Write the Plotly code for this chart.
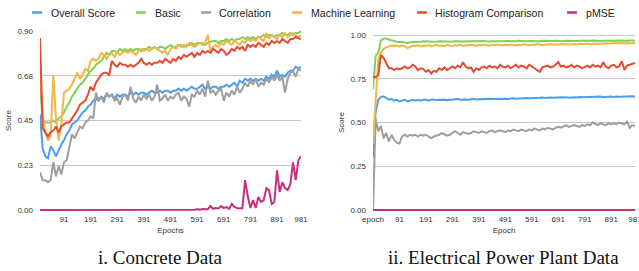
import plotly.graph_objects as go

W, H = 639, 271

# ---------------- Data ----------------
# Left: Concrete Data (epochs 1, 11, ..., 981)
left_epochs = [str(e) for e in range(1, 982, 10)]
left_ticks = ["91", "191", "291", "391", "491", "591", "691", "791", "891", "981"]

l_overall = [
    0.48, 0.31, 0.27, 0.26, 0.32, 0.30, 0.27, 0.30, 0.33, 0.35,
    0.38, 0.40, 0.43, 0.44, 0.45, 0.47, 0.49, 0.50, 0.52, 0.53,
    0.55, 0.56, 0.55, 0.57, 0.56, 0.58, 0.57, 0.58, 0.56, 0.58,
    0.57, 0.58, 0.58, 0.57, 0.59, 0.58, 0.59, 0.58, 0.59, 0.59,
    0.58, 0.59, 0.60, 0.59, 0.59, 0.60, 0.59, 0.60, 0.60, 0.59,
    0.60, 0.60, 0.61, 0.60, 0.61, 0.60, 0.61, 0.62, 0.61, 0.61,
    0.62, 0.63, 0.61, 0.62, 0.61, 0.62, 0.62, 0.61, 0.62, 0.62,
    0.63, 0.62, 0.63, 0.64, 0.62, 0.65, 0.64, 0.66, 0.65, 0.66,
    0.65, 0.66, 0.65, 0.66, 0.65, 0.67, 0.66, 0.68, 0.67, 0.70,
    0.67, 0.68, 0.67, 0.69, 0.70, 0.70, 0.72, 0.71, 0.72]

l_basic = [
    0.64, 0.45, 0.44, 0.44, 0.44, 0.45, 0.44, 0.46, 0.47, 0.49,
    0.52, 0.54, 0.57, 0.59, 0.61, 0.63, 0.64, 0.66, 0.68, 0.70,
    0.71, 0.73, 0.74, 0.75, 0.77, 0.79, 0.78, 0.80, 0.80, 0.79,
    0.81, 0.80, 0.81, 0.80, 0.81, 0.80, 0.81, 0.81, 0.80, 0.81,
    0.81, 0.82, 0.81, 0.82, 0.81, 0.82, 0.82, 0.81, 0.82, 0.83,
    0.82, 0.82, 0.83, 0.83, 0.82, 0.83, 0.83, 0.84, 0.83, 0.84,
    0.84, 0.84, 0.83, 0.84, 0.845, 0.85, 0.85, 0.84, 0.85, 0.85,
    0.86, 0.85, 0.86, 0.85, 0.86, 0.86, 0.87, 0.86, 0.87, 0.86,
    0.87, 0.86, 0.87, 0.87, 0.88, 0.87, 0.88, 0.88, 0.87, 0.88,
    0.88, 0.89, 0.88, 0.88, 0.89, 0.88, 0.89, 0.89, 0.90]

l_corr = [
    0.19, 0.15, 0.15, 0.14, 0.15, 0.24, 0.17, 0.22, 0.18, 0.24,
    0.25, 0.31, 0.38, 0.36, 0.39, 0.42, 0.41, 0.44, 0.45, 0.47,
    0.46, 0.59, 0.55, 0.57, 0.54, 0.59, 0.57, 0.58, 0.55, 0.56,
    0.53, 0.57, 0.58, 0.55, 0.62, 0.56, 0.54, 0.57, 0.55, 0.58,
    0.56, 0.58, 0.55, 0.57, 0.63, 0.55, 0.56, 0.58, 0.55, 0.57,
    0.56, 0.58, 0.59, 0.55, 0.57, 0.56, 0.52, 0.58, 0.57, 0.60,
    0.58, 0.61, 0.57, 0.65, 0.59, 0.60, 0.58, 0.60, 0.61, 0.55,
    0.59, 0.57, 0.60, 0.58, 0.62, 0.59, 0.61, 0.64, 0.62, 0.65,
    0.63, 0.66, 0.62, 0.64, 0.63, 0.66, 0.64, 0.67, 0.65, 0.68,
    0.65, 0.67, 0.59, 0.66, 0.69, 0.70, 0.67, 0.71, 0.70]

l_ml = [
    0.70, 0.48, 0.39, 0.35, 0.37, 0.68, 0.46, 0.35, 0.43, 0.59,
    0.60, 0.61, 0.63, 0.66, 0.69, 0.66, 0.68, 0.71, 0.70, 0.75,
    0.76, 0.75, 0.76, 0.79, 0.78, 0.76, 0.78, 0.79, 0.77, 0.795,
    0.78, 0.79, 0.80, 0.79, 0.80, 0.79, 0.78, 0.80, 0.81, 0.80,
    0.81, 0.80, 0.81, 0.82, 0.81, 0.80, 0.79, 0.80, 0.78, 0.81,
    0.82, 0.81, 0.83, 0.82, 0.83, 0.82, 0.84, 0.83, 0.82, 0.83,
    0.84, 0.83, 0.84, 0.88, 0.80, 0.82, 0.83, 0.82, 0.84, 0.83,
    0.85, 0.84, 0.83, 0.85, 0.84, 0.83, 0.85, 0.84, 0.86, 0.85,
    0.86, 0.85, 0.87, 0.86, 0.85, 0.89, 0.86, 0.88, 0.87, 0.86,
    0.88, 0.87, 0.89, 0.87, 0.88, 0.89, 0.88, 0.87, 0.88]

l_hist = [
    0.865, 0.41, 0.39, 0.37, 0.39, 0.40, 0.42, 0.39, 0.42, 0.43,
    0.44, 0.44, 0.46, 0.48, 0.50, 0.53, 0.54, 0.55, 0.58, 0.62,
    0.60, 0.64, 0.66, 0.68, 0.69, 0.69, 0.68, 0.75, 0.73, 0.72,
    0.74, 0.73, 0.73, 0.72, 0.73, 0.72, 0.73, 0.74, 0.76, 0.74,
    0.73, 0.74, 0.73, 0.74, 0.74, 0.75, 0.74, 0.76, 0.75, 0.74,
    0.76, 0.75, 0.77, 0.76, 0.78, 0.77, 0.78, 0.79, 0.77, 0.79,
    0.78, 0.80, 0.79, 0.80, 0.79, 0.81, 0.80, 0.79, 0.81, 0.80,
    0.78, 0.79, 0.81, 0.80, 0.82, 0.81, 0.82, 0.80, 0.83, 0.82,
    0.83, 0.82, 0.84, 0.83, 0.82, 0.84, 0.83, 0.85, 0.84, 0.85,
    0.84, 0.86, 0.85, 0.84, 0.86, 0.86, 0.87, 0.865, 0.86]

l_pmse = [
    0.0, 0.0, 0.0, 0.0, 0.0, 0.0, 0.0, 0.0, 0.0, 0.0,
    0.0, 0.0, 0.0, 0.0, 0.0, 0.0, 0.0, 0.0, 0.0, 0.0,
    0.0, 0.0, 0.0, 0.0, 0.0, 0.0, 0.0, 0.0, 0.0, 0.0,
    0.0, 0.0, 0.0, 0.0, 0.0, 0.0, 0.0, 0.0, 0.0, 0.0,
    0.0, 0.0, 0.0, 0.0, 0.0, 0.0, 0.0, 0.0, 0.0, 0.0,
    0.0, 0.0, 0.0, 0.0, 0.0, 0.0, 0.0, 0.002, 0.001, 0.004,
    0.002, 0.005, 0.003, 0.004, 0.02, 0.006, 0.01, 0.008, 0.02, 0.01,
    0.015, 0.005, 0.03, 0.015, 0.01, 0.008, 0.01, 0.15, 0.07, 0.01,
    0.05, 0.01, 0.065, 0.04, 0.05, 0.11, 0.10, 0.03, 0.04, 0.20,
    0.09, 0.14, 0.11, 0.10, 0.13, 0.24, 0.15, 0.25, 0.27]

# Right: Electrical Power Plant Data
right_epochs = ["epoch"] + [str(e) for e in range(1, 982, 10)]
right_ticks = ["epoch", "91", "191", "291", "391", "491", "591", "691", "791", "891", "981"]

r_overall = [
    0.30, 0.56, 0.63, 0.645, 0.65, 0.64, 0.63, 0.635, 0.625, 0.63,
    0.62, 0.625, 0.63, 0.62, 0.625, 0.63, 0.625, 0.63, 0.625, 0.63,
    0.63, 0.625, 0.63, 0.632, 0.628, 0.63, 0.632, 0.63, 0.628, 0.632,
    0.63, 0.632, 0.635, 0.63, 0.633, 0.632, 0.63, 0.633, 0.635, 0.632,
    0.633, 0.635, 0.632, 0.634, 0.636, 0.634, 0.635, 0.637, 0.635, 0.636,
    0.636, 0.635, 0.637, 0.638, 0.636, 0.638, 0.637, 0.639, 0.64, 0.638,
    0.64, 0.642, 0.64, 0.641, 0.643, 0.64, 0.642, 0.643, 0.641, 0.643,
    0.642, 0.644, 0.643, 0.645, 0.642, 0.644, 0.645, 0.643, 0.646, 0.644,
    0.645, 0.646, 0.644, 0.647, 0.645, 0.646, 0.648, 0.645, 0.647, 0.646,
    0.648, 0.646, 0.649, 0.647, 0.648, 0.65, 0.648, 0.649, 0.65, 0.648]

r_basic = [
    0.69, 0.88, 0.90, 0.97, 0.98, 0.98, 0.975, 0.97, 0.965, 0.962,
    0.96, 0.962, 0.958, 0.955, 0.958, 0.962, 0.96, 0.963, 0.962, 0.964,
    0.963, 0.962, 0.964, 0.963, 0.962, 0.964, 0.963, 0.965, 0.963, 0.964,
    0.962, 0.964, 0.963, 0.965, 0.964, 0.963, 0.965, 0.964, 0.963, 0.965,
    0.964, 0.966, 0.964, 0.965, 0.963, 0.965, 0.964, 0.966, 0.965, 0.964,
    0.966, 0.965, 0.964, 0.966, 0.965, 0.967, 0.965, 0.966, 0.964, 0.966,
    0.965, 0.967, 0.966, 0.965, 0.967, 0.966, 0.965, 0.967, 0.966, 0.968,
    0.966, 0.967, 0.965, 0.967, 0.966, 0.968, 0.967, 0.966, 0.968, 0.967,
    0.966, 0.968, 0.967, 0.969, 0.967, 0.968, 0.966, 0.968, 0.967, 0.969,
    0.968, 0.967, 0.969, 0.968, 0.967, 0.969, 0.968, 0.969, 0.97, 0.969]

r_corr = [
    0.0, 0.52, 0.45, 0.48, 0.41, 0.44, 0.39, 0.43, 0.40, 0.385,
    0.38, 0.42, 0.43, 0.42, 0.43, 0.425, 0.43, 0.42, 0.43, 0.425,
    0.43, 0.42, 0.41, 0.42, 0.425, 0.43, 0.44, 0.43, 0.425, 0.43,
    0.44, 0.45, 0.44, 0.43, 0.445, 0.44, 0.435, 0.44, 0.45, 0.445,
    0.44, 0.45, 0.445, 0.44, 0.45, 0.455, 0.445, 0.45, 0.455, 0.45,
    0.445, 0.455, 0.45, 0.46, 0.455, 0.45, 0.46, 0.455, 0.45, 0.46,
    0.455, 0.465, 0.46, 0.455, 0.465, 0.46, 0.47, 0.465, 0.46, 0.47,
    0.475, 0.47, 0.48, 0.485, 0.475, 0.48, 0.485, 0.48, 0.475, 0.485,
    0.48, 0.49, 0.485, 0.5, 0.49, 0.485, 0.495, 0.49, 0.485, 0.495,
    0.49, 0.495, 0.49, 0.5, 0.495, 0.49, 0.505, 0.47, 0.485, 0.48]

r_ml = [
    0.38, 0.65, 0.86, 0.90, 0.92, 0.93, 0.935, 0.94, 0.938, 0.94,
    0.935, 0.94, 0.938, 0.925, 0.932, 0.94, 0.938, 0.942, 0.935, 0.94,
    0.938, 0.942, 0.936, 0.94, 0.944, 0.938, 0.94, 0.937, 0.943, 0.94,
    0.938, 0.942, 0.94, 0.945, 0.938, 0.942, 0.94, 0.944, 0.941, 0.939,
    0.943, 0.94, 0.945, 0.942, 0.939, 0.944, 0.941, 0.946, 0.942, 0.94,
    0.944, 0.942, 0.946, 0.943, 0.941, 0.945, 0.943, 0.947, 0.944, 0.942,
    0.946, 0.943, 0.948, 0.944, 0.942, 0.946, 0.944, 0.948, 0.945, 0.947,
    0.944, 0.948, 0.946, 0.949, 0.945, 0.947, 0.949, 0.946, 0.95, 0.947,
    0.949, 0.951, 0.948, 0.95, 0.952, 0.949, 0.951, 0.95, 0.953, 0.951,
    0.952, 0.95, 0.953, 0.951, 0.954, 0.952, 0.955, 0.953, 0.955, 0.954]

r_hist = [
    0.76, 0.76, 0.77, 0.885, 0.87, 0.84, 0.81, 0.81, 0.80, 0.81,
    0.805, 0.81, 0.82, 0.81, 0.815, 0.83, 0.82, 0.80, 0.81, 0.805,
    0.79, 0.80, 0.78, 0.795, 0.79, 0.81, 0.80, 0.815, 0.80, 0.81,
    0.82, 0.81, 0.825, 0.815, 0.845, 0.82, 0.81, 0.815, 0.79, 0.81,
    0.80, 0.815, 0.82, 0.81, 0.825, 0.815, 0.82, 0.81, 0.83, 0.82,
    0.815, 0.825, 0.81, 0.82, 0.83, 0.815, 0.825, 0.82, 0.81, 0.83,
    0.82, 0.815, 0.805, 0.79, 0.815, 0.82, 0.825, 0.815, 0.82, 0.83,
    0.845, 0.82, 0.825, 0.815, 0.82, 0.83, 0.815, 0.825, 0.82, 0.81,
    0.82, 0.825, 0.815, 0.83, 0.82, 0.825, 0.815, 0.845, 0.82, 0.81,
    0.825, 0.83, 0.815, 0.82, 0.85, 0.80, 0.825, 0.83, 0.835, 0.84]

r_pmse = [
    0.0, 0.0, 0.0, 0.0, 0.0, 0.0, 0.0, 0.0, 0.0, 0.0,
    0.0, 0.0, 0.0, 0.0, 0.0, 0.0, 0.0, 0.0, 0.0, 0.0,
    0.0, 0.0, 0.0, 0.0, 0.0, 0.0, 0.0, 0.0, 0.0, 0.0,
    0.0, 0.0, 0.0, 0.0, 0.0, 0.0, 0.0, 0.0, 0.0, 0.0,
    0.0, 0.0, 0.0, 0.0, 0.0, 0.0, 0.0, 0.0, 0.0, 0.0,
    0.0, 0.0, 0.0, 0.0, 0.0, 0.0, 0.0, 0.0, 0.0, 0.0,
    0.0, 0.0, 0.0, 0.0, 0.0, 0.0, 0.0, 0.0, 0.0, 0.0,
    0.0, 0.0, 0.0, 0.0, 0.0, 0.0, 0.0, 0.0, 0.0, 0.0,
    0.0, 0.0, 0.0, 0.0, 0.0, 0.0, 0.0, 0.0, 0.0, 0.0,
    0.0, 0.0, 0.0, 0.0, 0.0, 0.0, 0.0, 0.0, 0.0, 0.0]

series_names = ["Overall Score", "Basic", "Correlation", "Machine Learning",
                "Histogram Comparison", "pMSE"]
series_colors = ["#4b9ded", "#84cf55", "#9e9e9e", "#f1b646", "#e64a31", "#c9307b"]

left_series = [l_overall, l_basic, l_corr, l_ml, l_hist, l_pmse]
right_series = [r_overall, r_basic, r_corr, r_ml, r_hist, r_pmse]

# ---------------- Figure ----------------
fig = go.Figure()

for name, color, ys in zip(series_names, series_colors, left_series):
    fig.add_trace(go.Scatter(x=left_epochs, y=ys, mode="lines", name=name,
                             line=dict(color=color, width=2),
                             xaxis="x", yaxis="y", showlegend=False))
for name, color, ys in zip(series_names, series_colors, right_series):
    fig.add_trace(go.Scatter(x=right_epochs, y=ys, mode="lines", name=name,
                             line=dict(color=color, width=2),
                             xaxis="x2", yaxis="y2", showlegend=False))

tick_font = dict(family="Liberation Sans, Arial, sans-serif", size=8, color="#333")
title_font = dict(family="Liberation Sans, Arial, sans-serif", size=8, color="#333")
grid_color = "#c6c6c6"

def px_x(p):
    return p / W

def px_y(p):
    return (H - p) / H

fig.update_layout(
    width=W, height=H,
    margin=dict(l=0, r=0, t=0, b=0),
    paper_bgcolor="white", plot_bgcolor="white",
    xaxis=dict(type="category", categoryorder="array", categoryarray=left_epochs,
               domain=[px_x(40), px_x(301)], range=[0, len(left_epochs) - 1],
               tickmode="array", tickvals=left_ticks, ticktext=left_ticks,
               showgrid=False, zeroline=False, showline=False, ticks="",
               tickfont=tick_font, automargin=False, ticklabelstandoff=2,
               title=dict(text="Epochs", font=title_font, standoff=4),
               anchor="y"),
    yaxis=dict(domain=[px_y(211), px_y(30)], range=[-0.005, 0.905],
               tickmode="array", tickvals=[0, 0.225, 0.45, 0.675, 0.9],
               ticktext=["0.00", "0.23", "0.45", "0.68", "0.90"],
               showgrid=True, gridcolor=grid_color, gridwidth=1,
               zeroline=False, showline=False, ticks="",
               tickfont=tick_font, automargin=False, ticklabelstandoff=6,
               title=dict(text="Score", font=title_font, standoff=4),
               anchor="x"),
    xaxis2=dict(type="category", categoryorder="array", categoryarray=right_epochs,
                domain=[px_x(373), px_x(635)], range=[0, len(right_epochs) - 1],
                tickmode="array", tickvals=right_ticks, ticktext=right_ticks,
                showgrid=False, zeroline=False, showline=False, ticks="",
                tickfont=tick_font, automargin=False, ticklabelstandoff=2,
                title=dict(text="Epoch", font=title_font, standoff=4),
                anchor="y2"),
    yaxis2=dict(domain=[px_y(211), px_y(34)], range=[-0.006, 1.006],
                tickmode="array", tickvals=[0, 0.25, 0.5, 0.75, 1.0],
                ticktext=["0.00", "0.25", "0.50", "0.75", "1.00"],
                showgrid=True, gridcolor=grid_color, gridwidth=1,
                zeroline=False, showline=False, ticks="",
                tickfont=tick_font, automargin=False, ticklabelstandoff=6,
                title=dict(text="Score", font=title_font, standoff=4),
                anchor="x2"),
)

# Manual legend (short line symbols + labels)
legend_sym_x = [32, 136, 201, 292, 417, 567]
legend_txt_x = [49, 152.5, 217, 309, 433, 584]
legend_y = 12.5
shapes = []
annotations = []
for sx, tx, name, color in zip(legend_sym_x, legend_txt_x, series_names, series_colors):
    shapes.append(dict(type="line", xref="paper", yref="paper",
                       x0=px_x(sx), x1=px_x(sx + 10), y0=px_y(legend_y), y1=px_y(legend_y),
                       line=dict(color=color, width=2.5)))
    annotations.append(dict(text=name, xref="paper", yref="paper",
                            x=px_x(tx), y=px_y(legend_y), xanchor="left", yanchor="middle",
                            showarrow=False,
                            font=dict(family="Liberation Sans, Arial, sans-serif",
                                      size=10.6, color="#222")))

# Captions
cap_font = dict(family="Liberation Serif, Times New Roman, serif", size=19, color="#111")
annotations.append(dict(text="i. Concrete Data", xref="paper", yref="paper",
                        x=px_x(160), y=px_y(257), xanchor="center", yanchor="middle",
                        showarrow=False, font=cap_font))
annotations.append(dict(text="ii. Electrical Power Plant Data", xref="paper", yref="paper",
                        x=px_x(504), y=px_y(257), xanchor="center", yanchor="middle",
                        showarrow=False, font=cap_font))

fig.update_layout(shapes=shapes, annotations=annotations)

fig.write_html("out.html",
               config={"displayModeBar": False, "staticPlot": True},
               post_script="document.body.style.margin='0';document.body.style.padding='0';document.body.style.overflow='hidden';")
